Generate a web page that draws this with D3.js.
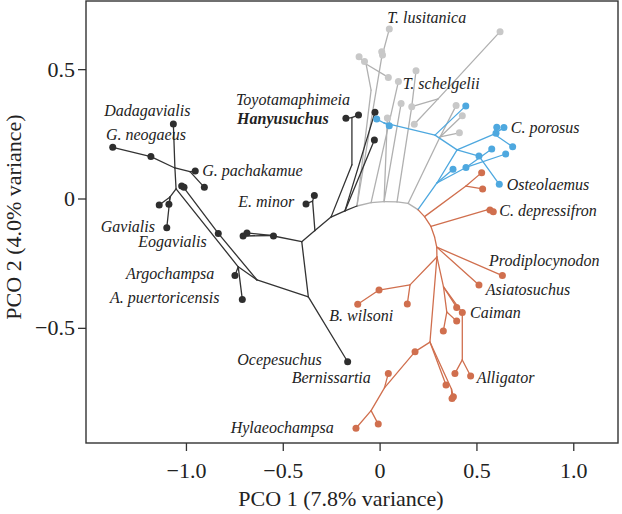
<!DOCTYPE html>
<html><head><meta charset="utf-8">
<script src="https://cdn.jsdelivr.net/npm/d3@7"></script>
<style>body{margin:0;background:#fff}svg{display:block}</style>
</head><body>
<svg id="c" width="622" height="514"></svg>
<script>
// nodes: [id, PCO1, PCO2, hasDot]
const blackNodes = [
["K0",-0.402,-0.167,0],["K1",-0.368,-0.380,0],["Oce",-0.165,-0.631,1],
["K2",-0.633,-0.315,0],["L5",-0.730,-0.264,0],["Argo",-0.747,-0.298,1],["Apue",-0.709,-0.390,1],
["L7",-0.833,-0.135,1],["L8",-1.015,0.046,0],["Eog2",-1.022,0.048,1],["Eog3",-1.010,0.043,1],
["L3",-1.051,0.037,0],["L1",-1.057,0.118,0],["Dada",-1.065,0.288,1],["Gn1",-1.181,0.162,1],["Gneo",-1.378,0.198,1],
["L2",-0.979,0.104,0],["Gpa1",-0.952,0.106,1],["Gpa2",-0.905,0.043,1],
["L10",-1.082,0.006,0],["Gv1",-1.138,-0.025,1],["Gv2",-1.088,-0.022,1],["Gav",-1.099,-0.113,1],
["Kb2",-0.561,-0.143,0],["Ka1",-0.548,-0.145,1],["Ka2",-0.685,-0.133,1],["Ka3",-0.705,-0.145,1],
["K3",-0.334,-0.124,0],["K4",-0.346,-0.010,0],["Em1",-0.337,0.012,1],["Em2",-0.380,-0.021,1],
["B3",-0.251,-0.072,0],["B4",-0.143,0.130,0],["B5",-0.143,0.313,0],["T1",-0.174,0.310,1],["T2",-0.109,0.323,1],
["B6",-0.179,-0.048,0],["H1",-0.027,0.226,1],["H2",-0.024,0.333,1]
];
const grayNodes = [
["a1",-0.117,-0.029,0],["a2",-0.044,-0.016,0],["a3",0.023,-0.012,0],["a4",0.090,-0.013,0],
["a5",0.147,-0.019,0],["a6",0.198,-0.043,0],
["gC",0.010,0.543,0],["Tlus",0.050,0.655,1],["g1",0.011,0.567,1],["g2",0.015,0.555,1],
["gA",-0.044,0.419,0],["gB",-0.070,0.520,0],["g3",-0.106,0.548,1],["g4",-0.078,0.530,1],["g5",0.045,0.468,1],
["Tsch",0.097,0.452,1],["g6",0.040,0.311,1],["g7",0.111,0.367,1],
["gD",0.166,0.355,1],["g8",0.188,0.494,1],["gE",0.302,0.385,0],["g9",0.622,0.645,1],["g10",0.179,0.287,1],
["gF",0.312,0.238,0],["g11",0.395,0.359,1],["g12",0.427,0.320,1],["g13",0.412,0.254,1]
];
const blueNodes = [
["bS",0.296,0.060,0],["bB",0.400,0.188,0],["b1",0.379,0.113,1],["bG",0.446,0.120,1],
["b2",0.579,0.191,1],["b3",0.651,0.172,1],["bA",0.286,0.245,0],["bC",0.023,0.292,0],
["b4",-0.015,0.307,1],["b5",0.050,0.281,1],["b6",0.445,0.358,1],["bD",0.513,0.164,1],
["Ost",0.618,0.055,1],["bP",0.591,0.249,0],["b7",0.605,0.275,1],["b8",0.642,0.274,1],
["b9",0.601,0.252,1],["b10",0.687,0.200,1]
];
const orangeNodes = [
["o0",0.232,-0.070,0],["o1",0.265,-0.108,0],["o1b",0.284,-0.149,0],["o2",0.295,-0.188,0],["o4",0.296,-0.226,0],
["oA",0.446,0.048,0],["r1",0.527,0.100,1],["r2",0.532,0.037,1],
["oB",0.555,-0.044,0],["Cdep1",0.570,-0.044,1],["Cdep2",0.587,-0.051,1],
["Prod",0.634,-0.298,1],["Asia",0.513,-0.334,1],
["oC",0.157,-0.334,0],["r3",0.143,-0.408,1],["oD",-0.003,-0.354,1],["Bwil",-0.113,-0.409,1],
["oF",0.330,-0.342,0],["r4",0.398,-0.421,1],["Caim",0.427,-0.441,1],["oG",0.347,-0.439,0],
["r5",0.398,-0.474,1],["r6",0.329,-0.512,1],["oH",0.427,-0.624,0],["Alli",0.470,-0.686,1],["r7",0.389,-0.676,1],
["oE",0.260,-0.555,0],["r8",0.343,-0.721,1],["oN",0.371,-0.736,0],["r9",0.381,-0.766,1],["r10",0.374,-0.773,1],
["t1",0.183,-0.592,1],["oP",0.025,-0.732,0],["Bern",0.045,-0.676,1],["oQ",-0.044,-0.820,0],
["r11",-0.007,-0.872,1],["Hyla",-0.122,-0.888,1]
];
const blackEdges = [
["K0","K1"],["K1","Oce"],["K1","K2"],["K2","L5"],["L5","Argo"],["L5","Apue"],["L5","L3"],
["K2","L7"],["L7","L8"],["L8","Eog2"],["L8","Eog3"],
["L3","L1"],["L1","Dada"],["L1","Gn1"],["Gn1","Gneo"],["L1","L2"],["L2","Gpa1"],["L2","Gpa2"],
["L3","L10"],["L10","Gv1"],["L10","Gv2"],["L10","Gav"],
["K0","Kb2"],["Kb2","Ka1"],["Kb2","Ka2"],["Kb2","Ka3"],
["K0","K3"],["K3","K4"],["K4","Em1"],["K4","Em2"],
["K3","B3"],["B3","B4"],["B4","B5"],["B5","T1"],["B5","T2"],
["B3","B6"],["B6","H1"],["B6","H2"],["B6","a1"]
];
const grayEdges = [
["a1","a2"],["a2","a3"],["a3","a4"],["a4","a5"],["a5","a6"],
["a1","gC"],["gC","Tlus"],["gC","g1"],["gC","g2"],
["a1","gA"],["gA","gB"],["gB","g3"],["gB","g4"],["gB","g5"],
["a2","Tsch"],["a3","g6"],["a3","g7"],
["a4","gD"],["gD","g8"],["gD","gE"],["gE","g9"],["gE","g10"],
["a5","gF"],["gF","g11"],["gF","g12"],["gF","g13"]
];
const blueEdges = [
["a6","bS"],["bS","bB"],["bS","b1"],["bS","bG"],["bG","b2"],["bG","b3"],
["bB","bA"],["bA","bC"],["bC","b4"],["bC","b5"],["bA","b6"],
["bB","bD"],["bD","Ost"],["bB","bP"],["bP","b7"],["bP","b8"],["bP","b9"],["bP","b10"]
];
const orangeEdges = [
["a6","o0"],["o0","o1"],["o1","o1b"],["o1b","o2"],["o2","o4"],
["o0","oA"],["oA","r1"],["oA","r2"],["o1","oB"],["oB","Cdep1"],["oB","Cdep2"],
["o2","Prod"],["o2","Asia"],["o4","oC"],["oC","r3"],["oC","oD"],["oD","Bwil"],
["o4","oF"],["oF","r4"],["oF","Caim"],["oF","oG"],["oG","r5"],["oG","r6"],
["Caim","oH"],["oH","Alli"],["oH","r7"],
["o4","oE"],["oE","r8"],["oE","oN"],["oN","r9"],["oN","r10"],
["oE","t1"],["t1","oP"],["oP","Bern"],["oP","oQ"],["oQ","r11"],["oQ","Hyla"]
];
// labels: [text, PCO1, PCO2, bold]
const labels = [
["T. lusitanica",0.040,0.678,0],["T. schelgelii",0.119,0.422,0],
["Toyotamaphimeia",-0.742,0.360,0],["Hanyusuchus",-0.736,0.288,1],
["Dadagavialis",-1.422,0.320,0],["G. neogaeus",-1.413,0.226,0],
["G. pachakamue",-0.916,0.088,0],["E. minor",-0.730,-0.032,0],
["Gavialis",-1.440,-0.131,0],["Eogavialis",-1.246,-0.189,0],
["Argochampsa",-1.310,-0.312,0],["A. puertoricensis",-1.392,-0.405,0],
["Ocepesuchus",-0.735,-0.644,0],["Bernissartia",-0.454,-0.714,0],
["Hylaeochampsa",-0.769,-0.908,0],["B. wilsoni",-0.260,-0.474,0],
["Prodiplocynodon",0.565,-0.261,0],["Asiatosuchus",0.548,-0.373,0],
["Caiman",0.467,-0.461,0],["Alligator",0.501,-0.712,0],
["C. porosus",0.677,0.254,0],["Osteolaemus",0.656,0.033,0],
["C. depressifron",0.618,-0.068,0]
];
const xTicks = [-1, -0.5, 0, 0.5, 1];
const xTickLabels = ["\u22121.0","\u22120.5","0","0.5","1.0"];
const yTicks = [-0.5, 0, 0.5];
const yTickLabels = ["\u22120.5","0","0.5"];
const xTitle = "PCO 1 (7.8% variance)";
const yTitle = "PCO 2 (4.0% variance)";

const svg = d3.select("#c");
const L = 86, R = 618, T = 1, B = 443;
const x = d3.scaleLinear().domain([-1.5161, 1.2310]).range([L, R]);
const y = d3.scaleLinear().domain([-0.9451, 0.7634]).range([B, T]);
const font = "'Liberation Serif','Times New Roman',serif";

const all = new Map();
[blackNodes, grayNodes, blueNodes, orangeNodes].forEach(a => a.forEach(n => all.set(n[0], n)));

const groups = [
  {edges: grayEdges, nodes: grayNodes, line: "#b0b0b0", dot: "#c8c8c8"},
  {edges: blackEdges, nodes: blackNodes, line: "#333333", dot: "#2e2e2e"},
  {edges: blueEdges, nodes: blueNodes, line: "#4ea8df", dot: "#4ea8df"},
  {edges: orangeEdges, nodes: orangeNodes, line: "#d06f4e", dot: "#d06f4e"}
];
const g = svg.append("g");
groups.forEach(gr => {
  g.append("g").selectAll("line").data(gr.edges).join("line")
    .attr("x1", d => x(all.get(d[0])[1])).attr("y1", d => y(all.get(d[0])[2]))
    .attr("x2", d => x(all.get(d[1])[1])).attr("y2", d => y(all.get(d[1])[2]))
    .attr("stroke", gr.line).attr("stroke-width", 1.3).attr("stroke-linecap", "round");
});
groups.forEach(gr => {
  g.append("g").selectAll("circle").data(gr.nodes.filter(n => n[3])).join("circle")
    .attr("cx", d => x(d[1])).attr("cy", d => y(d[2])).attr("r", 3.5)
    .attr("fill", gr.dot);
});

svg.append("g").selectAll("text").data(labels).join("text")
  .attr("x", d => x(d[1])).attr("y", d => y(d[2]))
  .attr("font-family", font).attr("font-size", 16).attr("font-style", "italic")
  .attr("font-weight", d => d[3] ? "bold" : "normal")
  .attr("fill", "#222").text(d => d[0]);

// frame
svg.append("rect").attr("x", L).attr("y", T).attr("width", R - L).attr("height", B - T)
  .attr("fill", "none").attr("stroke", "#333").attr("stroke-width", 1.4);

const xa = svg.append("g").attr("transform", `translate(0,${B})`)
  .call(d3.axisBottom(x).tickValues(xTicks).tickFormat((d, i) => xTickLabels[i]).tickSize(8).tickSizeOuter(0).tickPadding(11));
const ya = svg.append("g").attr("transform", `translate(${L},0)`)
  .call(d3.axisLeft(y).tickValues(yTicks).tickFormat((d, i) => yTickLabels[i]).tickSize(8).tickSizeOuter(0).tickPadding(3));
[xa, ya].forEach(a => {
  a.select(".domain").remove();
  a.selectAll("line").attr("stroke", "#333").attr("stroke-width", 1.3);
  a.selectAll("text").attr("font-family", font).attr("font-size", 22).attr("fill", "#222");
});

svg.append("text").attr("x", 341).attr("y", 506).attr("text-anchor", "middle")
  .attr("font-family", font).attr("font-size", 22).attr("fill", "#222").text(xTitle);
svg.append("text").attr("transform", "translate(21,217) rotate(-90)").attr("text-anchor", "middle")
  .attr("font-family", font).attr("font-size", 22).attr("fill", "#222").text(yTitle);
</script>
</body></html>
